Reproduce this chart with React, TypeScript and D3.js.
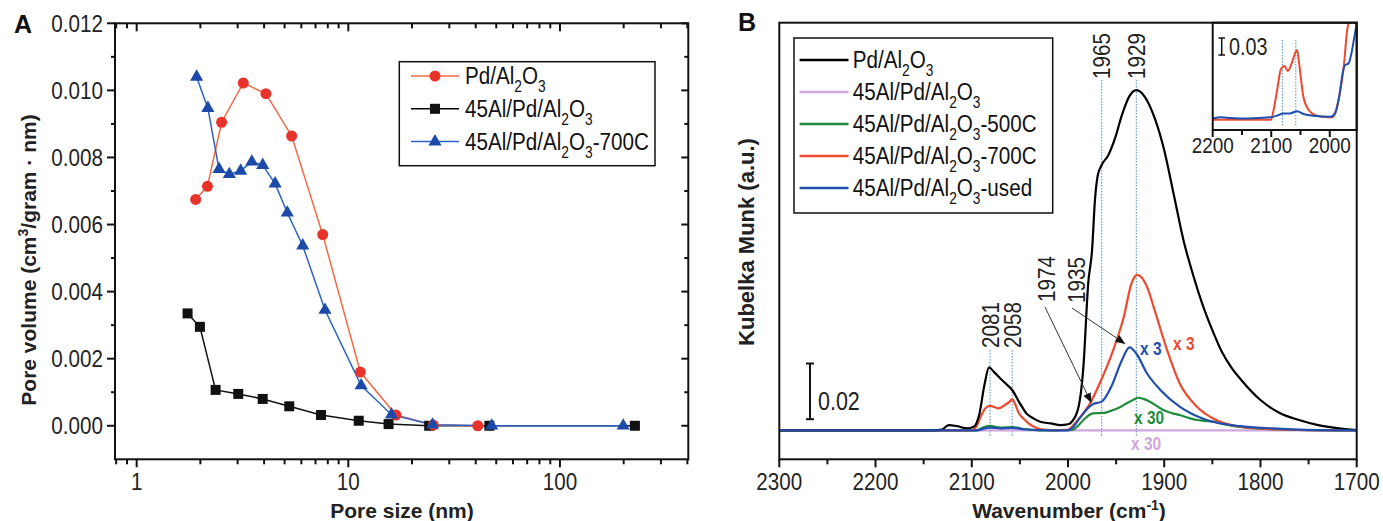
import React from 'react';
import * as d3 from 'd3';

const width = 1383;
const height = 521;
const font = '"Liberation Sans", Arial, Helvetica, sans-serif';
const squeeze = 0.86; // reference uses a condensed sans

const red = '#e8332a';
const redLine = '#f26a45';
const blue = '#1d4aa8';
const blueLine = '#2a63c4';
const specRed = '#ee4a2f';
const specBlue = '#1f4fb0';
const specGreen = '#1e8c3a';
const specPink = '#cfa6dd';
const dotBlue = '#4a8ac9';

// ---- panel A : pore size distribution ----
const sizePd = [1.90, 2.16, 2.52, 3.19, 4.08, 5.40, 7.57, 11.4, 16.8, 25.2, 40.9];
const volPd = [0.00675, 0.00714, 0.00905, 0.01022, 0.0099, 0.00864, 0.0057, 0.0016, 0.00032, 0.00002, 0];
const size45 = [1.74, 1.99, 2.36, 3.02, 3.94, 5.26, 7.43, 11.2, 15.5, 24.1, 46.4, 226];
const vol45 = [0.00335, 0.00295, 0.00107, 0.00095, 0.0008, 0.00058, 0.00032, 0.00015, 0.00005, 0, 0, 0];
const size700 = [1.92, 2.17, 2.45, 2.74, 3.10, 3.50, 3.94, 4.51, 5.15, 6.09, 7.76, 11.5, 16.0, 25.0, 47.6, 199];
const vol700 = [0.0104, 0.00947, 0.00765, 0.0075, 0.0076, 0.00787, 0.00777, 0.00722, 0.00635, 0.00537, 0.00345, 0.0012, 0.00033, 0.00003, 0, 0];
const volTicks = [0, 0.002, 0.004, 0.006, 0.008, 0.010, 0.012];
const sizeTicks = [1, 10, 100];

// ---- panel B : DRIFTS spectra (wavenumber, Kubelka-Munk) ----
const wnPd = [2300, 2200, 2140, 2131, 2124, 2115, 2105, 2098, 2092, 2087, 2082, 2077, 2070, 2065, 2058, 2050, 2043, 2036, 2028, 2018, 2008, 2000, 1996, 1989, 1984, 1979, 1975, 1972, 1969, 1965, 1958, 1951, 1944, 1936, 1929, 1920, 1910, 1900, 1890, 1880, 1870, 1860, 1850, 1840, 1830, 1820, 1800, 1780, 1760, 1740, 1720, 1700];
const kmPd = [0, 0, 0, 0.0003, 0.0019, 0.0015, 0.0007, 0.0013, 0.006, 0.016, 0.0226, 0.021, 0.0185, 0.0169, 0.0145, 0.0097, 0.006, 0.0043, 0.003, 0.0025, 0.0019, 0.0022, 0.0031, 0.0085, 0.0228, 0.0528, 0.0647, 0.0827, 0.0917, 0.0953, 0.0989, 0.105, 0.1132, 0.1201, 0.1222, 0.1197, 0.1122, 0.1006, 0.0845, 0.0683, 0.0558, 0.045, 0.036, 0.0281, 0.0224, 0.0181, 0.0109, 0.0062, 0.0037, 0.0019, 0.0008, 0.0001];
const wn45 = [2300, 1700];
const km45 = [0, 0];
const wn500 = [2300, 2095, 2087, 2081, 2070, 2058, 2045, 2030, 1995, 1990, 1984, 1978, 1974, 1968, 1962, 1953, 1946, 1939, 1932, 1927, 1921, 1915, 1908, 1901, 1892, 1884, 1875, 1866, 1857, 1849, 1838, 1828, 1815, 1804, 1780, 1750, 1700];
const km500 = [0, 0, 0.0012, 0.0016, 0.001, 0.0012, 0.0004, 0, 0.0002, 0.0015, 0.0037, 0.0055, 0.0061, 0.0062, 0.0063, 0.0073, 0.0083, 0.0097, 0.011, 0.0117, 0.0112, 0.0103, 0.0088, 0.0073, 0.0062, 0.0055, 0.0045, 0.0037, 0.0034, 0.0031, 0.0022, 0.0015, 0.001, 0.0007, 0.0003, 0.0001, 0];
const wn700 = [2300, 2100, 2095, 2090, 2085, 2081, 2076, 2072, 2066, 2060, 2058, 2055, 2051, 2045, 2041, 2035, 2029, 2020, 2000, 1996, 1987, 1977, 1967, 1953, 1942, 1934, 1928, 1918, 1910, 1897, 1884, 1866, 1846, 1821, 1787, 1750, 1700];
const km700 = [0, 0, 0.0015, 0.0055, 0.0082, 0.0088, 0.0083, 0.0079, 0.009, 0.0105, 0.0112, 0.0095, 0.0061, 0.0038, 0.0025, 0.0012, 0.0005, 0.0001, 0.0002, 0.0013, 0.0049, 0.0097, 0.0169, 0.0288, 0.0408, 0.0528, 0.0558, 0.0516, 0.0432, 0.0288, 0.0169, 0.0085, 0.0037, 0.0013, 0.0004, 0.0001, 0];
const wnUsed = [2300, 2095, 2085, 2081, 2070, 2058, 2045, 2030, 2000, 1996, 1988, 1977, 1974, 1965, 1955, 1944, 1936, 1929, 1918, 1904, 1884, 1856, 1821, 1787, 1752, 1700];
const kmUsed = [0, 0, 0.0008, 0.001, 0.0007, 0.0009, 0.0004, 0.0001, 0, 0.0007, 0.0043, 0.0087, 0.0094, 0.0103, 0.0157, 0.0252, 0.0298, 0.0276, 0.0205, 0.0145, 0.0085, 0.0037, 0.0015, 0.0007, 0.0002, 0];
const wnTicks = [2300, 2200, 2100, 2000, 1900, 1800, 1700];

// inset (own scale)
const insetWn700 = [2200, 2100, 2096, 2089, 2084, 2077, 2072, 2066, 2061, 2056, 2053, 2049, 2045, 2036, 2025, 2011, 1996, 1991, 1985, 1979, 1975, 1971, 1967, 1962];
const insetKm700 = [-0.002, -0.002, 0.015, 0.056, 0.0855, 0.0926, 0.0838, 0.0944, 0.110, 0.121, 0.103, 0.068, 0.038, 0.015, 0.006, 0.003, 0.002, 0.009, 0.033, 0.068, 0.103, 0.150, 0.174, 0.2];
const insetWnUsed = [2200, 2185, 2170, 2140, 2102, 2090, 2079, 2068, 2056, 2045, 2028, 1999, 1991, 1984, 1978, 1974, 1968, 1963, 1958, 1953];
const insetKmUsed = [0, 0.002, 0.001, 0, 0.002, 0.005, 0.009, 0.009, 0.013, 0.008, 0.005, 0.003, 0.009, 0.038, 0.080, 0.094, 0.097, 0.115, 0.144, 0.174];
const insetTicks = [2200, 2100, 2000];

const peakLow = [2081, 2058];
const peakHigh = [1965, 1929];

const zip = (xs: number[], ys: number[]) => xs.map((x, i) => [x, ys[i]] as [number, number]);

// condensed text: horizontally squeezed
function T({ x, y, size = 24, anchor = 'start', rot = false, fill = '#222', weight, children }: any) {
  const tf = `translate(${x},${y})${rot ? ' rotate(-90)' : ''} scale(${squeeze},1)`;
  return (
    <text transform={tf} fontSize={size} textAnchor={anchor} fill={fill} fontWeight={weight}>{children}</text>
  );
}

// Al2O3 style label with subscripts
function Chem({ x, y, pre, post = '' }: any) {
  return (
    <T x={x} y={y} size={24} fill="#111">
      {pre}
      <tspan fontSize={16} dy={8}>2</tspan>
      <tspan dy={-8}>O</tspan>
      <tspan fontSize={16} dy={8}>3</tspan>
      <tspan dy={-8}>{post}</tspan>
    </T>
  );
}

export default function App() {
  // panel A scales
  const xA = d3.scaleLog().domain([0.79, 404]).range([115, 688.3]);
  const yA = d3.scaleLinear().domain([-0.001, 0.012]).range([459.3, 23.3]);
  const lineA = d3.line<[number, number]>().x(d => xA(d[0])).y(d => yA(d[1]));
  const [aL, aR, aT, aB] = [115, 688.3, 23.3, 459.3];

  // panel B scales
  const xB = d3.scaleLinear().domain([2300, 1700]).range([779.3, 1356.7]);
  const yB = d3.scaleLinear().domain([-0.0104, 0.1464]).range([459.3, 22.7]);
  const lineB = d3.line<[number, number]>().x(d => xB(d[0])).y(d => yB(d[1])).curve(d3.curveMonotoneX);
  const [bL, bR, bT, bB] = [779.3, 1356.7, 22.7, 459.3];

  // inset scales
  const xI = d3.scaleLinear().domain([2200, 1954]).range([1212.7, 1356.7]);
  const yI = d3.scaleLinear().domain([-0.0203, 0.169]).range([130, 22.7]);
  const lineI = d3.line<[number, number]>().x(d => xI(d[0])).y(d => yI(d[1])).curve(d3.curveMonotoneX);

  const logTicks = xA.ticks();
  const isMajor = (v: number) => Math.abs(Math.log10(v) - Math.round(Math.log10(v))) < 1e-6;
  const volMinor = d3.range(0, 13).map(i => i * 0.001);
  const wnMinor = d3.range(1700, 2301, 50);

  const tri = d3.symbol().type(d3.symbolTriangle).size(75)();

  const legendA = [
    { pre: 'Pd/Al', post: '', color: redLine, mark: 'circle' },
    { pre: '45Al/Pd/Al', post: '', color: '#000', mark: 'square' },
    { pre: '45Al/Pd/Al', post: '-700C', color: blueLine, mark: 'tri' },
  ];
  const legendB = [
    { pre: 'Pd/Al', post: '', color: '#000' },
    { pre: '45Al/Pd/Al', post: '', color: specPink },
    { pre: '45Al/Pd/Al', post: '-500C', color: specGreen },
    { pre: '45Al/Pd/Al', post: '-700C', color: specRed },
    { pre: '45Al/Pd/Al', post: '-used', color: specBlue },
  ];

  return (
    <svg width={width} height={height} style={{ position: 'absolute', left: 0, top: 0 }} fontFamily={font}>
      <rect width={width} height={height} fill="#fff" />
      <defs>
        <clipPath id="clipB"><rect x={bL} y={bT} width={bR - bL} height={bB - bT} /></clipPath>
        <clipPath id="clipI"><rect x={xI(2200)} y={yI(0.169)} width={xI(1954) - xI(2200)} height={yI(-0.0203) - yI(0.169)} /></clipPath>
        <marker id="arrow" markerWidth="10" markerHeight="8" refX="9" refY="4" orient="auto" markerUnits="userSpaceOnUse">
          <path d="M0,0 L10,4 L0,8 Z" fill="#111" />
        </marker>
      </defs>

      {/* ================= Panel A ================= */}
      <text x={14} y={33} fontSize={25} fontWeight="bold" fill="#111">A</text>

      {/* ticks */}
      {volMinor.map((v, i) => {
        const major = i % 2 === 0;
        return (
          <g key={'vt' + i} stroke="#111" strokeWidth={2}>
            <line x1={aL} x2={aL - (major ? 8 : 4)} y1={yA(v)} y2={yA(v)} />
            <line x1={aR} x2={aR - (major ? 7 : 4)} y1={yA(v)} y2={yA(v)} />
          </g>
        );
      })}
      {logTicks.map((v, i) => {
        const major = isMajor(v);
        return (
          <g key={'st' + i} stroke="#111" strokeWidth={2}>
            <line x1={xA(v)} x2={xA(v)} y1={aB} y2={aB + (major ? 8 : 5)} />
            <line x1={xA(v)} x2={xA(v)} y1={aT} y2={aT + (major ? 8 : 5)} />
          </g>
        );
      })}
      <rect x={aL} y={aT} width={aR - aL} height={aB - aT} fill="none" stroke="#111" strokeWidth={2} />

      {volTicks.map(v => (
        <T key={'vl' + v} x={aL - 12} y={yA(v) + 8.5} anchor="end">{v.toFixed(3)}</T>
      ))}
      {sizeTicks.map(v => (
        <T key={'sl' + v} x={xA(v)} y={490} anchor="middle">{v}</T>
      ))}

      <text x={402} y={518} fontSize={21} fontWeight="bold" textAnchor="middle" fill="#222">Pore size (nm)</text>
      <text transform="translate(36,260) rotate(-90)" fontSize={21} fontWeight="bold" textAnchor="middle" fill="#222">
        Pore volume (cm<tspan fontSize={14} dy={-8}>3</tspan><tspan dy={8}>/gram · nm)</tspan>
      </text>

      {/* series */}
      <path d={lineA(zip(size45, vol45)) || ''} fill="none" stroke="#111" strokeWidth={1.5} />
      <path d={lineA(zip(sizePd, volPd)) || ''} fill="none" stroke={redLine} strokeWidth={1.5} />
      <path d={lineA(zip(size700, vol700)) || ''} fill="none" stroke={blueLine} strokeWidth={1.5} />
      {zip(size45, vol45).map((d, i) => (
        <rect key={'sq' + i} x={xA(d[0]) - 5} y={yA(d[1]) - 5} width={10} height={10} fill="#111" />
      ))}
      {zip(sizePd, volPd).map((d, i) => (
        <circle key={'ci' + i} cx={xA(d[0])} cy={yA(d[1])} r={5.5} fill={red} />
      ))}
      {zip(size700, vol700).map((d, i) => (
        <path key={'tr' + i} d={tri || ''} transform={`translate(${xA(d[0])},${yA(d[1])})`} fill={blue} />
      ))}

      {/* legend A */}
      <rect x={399.3} y={61.7} width={255.7} height={104} fill="#fff" stroke="#111" strokeWidth={1.5} />
      {legendA.map((l, i) => {
        const y = 76 + i * 32.8;
        return (
          <g key={'la' + i}>
            <line x1={411} x2={459} y1={y} y2={y} stroke={l.color} strokeWidth={1.5} />
            {l.mark === 'circle' && <circle cx={435} cy={y} r={5.5} fill={red} />}
            {l.mark === 'square' && <rect x={430} y={y - 5} width={10} height={10} fill="#111" />}
            {l.mark === 'tri' && <path d={tri || ''} transform={`translate(435,${y})`} fill={blue} />}
            <Chem x={465} y={y + 8} pre={l.pre} post={l.post} />
          </g>
        );
      })}

      {/* ================= Panel B ================= */}
      <text x={738} y={31} fontSize={25} fontWeight="bold" fill="#111">B</text>

      {wnMinor.map(v => (
        <line key={'wt' + v} x1={xB(v)} x2={xB(v)} y1={bB} y2={bB + (v % 100 === 0 ? 8 : 5)} stroke="#111" strokeWidth={2} />
      ))}
      {wnTicks.map(v => (
        <T key={'wl' + v} x={xB(v)} y={490} anchor="middle">{v}</T>
      ))}
      <text x={1069} y={518} fontSize={21} fontWeight="bold" textAnchor="middle" fill="#222">
        Wavenumber (cm<tspan fontSize={14} dy={-8}>-1</tspan><tspan dy={8}>)</tspan>
      </text>
      <text transform="translate(754,242) rotate(-90)" fontSize={22} fontWeight="bold" textAnchor="middle" fill="#222">Kubelka Munk (a.u.)</text>

      {/* dotted peak markers */}
      {peakLow.map(p => (
        <line key={'pl' + p} x1={xB(p)} x2={xB(p)} y1={350} y2={437} stroke={dotBlue} strokeWidth={1} strokeDasharray="1.5,1.5" />
      ))}
      {peakHigh.map(p => (
        <line key={'ph' + p} x1={xB(p)} x2={xB(p)} y1={80} y2={437} stroke={dotBlue} strokeWidth={1} strokeDasharray="1.5,1.5" />
      ))}

      <g clipPath="url(#clipB)" fill="none" strokeWidth={2.2} strokeLinejoin="round">
        <path d={lineB(zip(wn45, km45)) || ''} stroke={specPink} />
        <path d={lineB(zip(wn500, km500)) || ''} stroke={specGreen} />
        <path d={lineB(zip(wn700, km700)) || ''} stroke={specRed} />
        <path d={lineB(zip(wnPd, kmPd)) || ''} stroke="#000" />
        <path d={lineB(zip(wnUsed, kmUsed)) || ''} stroke={specBlue} />
      </g>

      {/* peak labels */}
      {[...peakLow, ...peakHigh].map((p, i) => (
        <T key={'pt' + p} x={xB(p) + 8.5} y={i < 2 ? 325 : 56} rot anchor="middle">{p}</T>
      ))}
      <T x={1055} y={279} rot anchor="middle">1974</T>
      <T x={1085} y={280} rot anchor="middle">1935</T>
      <line x1={1045} y1={307} x2={xB(1974) - 2} y2={yB(0.0094) - 2} stroke="#333" strokeWidth={1} markerEnd="url(#arrow)" />
      <line x1={1072} y1={308} x2={xB(1935) - 6} y2={yB(0.0298) - 4} stroke="#333" strokeWidth={1} markerEnd="url(#arrow)" />

      {/* multipliers */}
      <T x={1140} y={355} size={18} weight="bold" fill={specBlue}>x 3</T>
      <T x={1173} y={349.5} size={18} weight="bold" fill={specRed}>x 3</T>
      <T x={1134} y={423.5} size={18} weight="bold" fill={specGreen}>x 30</T>
      <T x={1131} y={449.5} size={18} weight="bold" fill={specPink}>x 30</T>

      {/* scale bar 0.02 */}
      <g stroke="#111" strokeWidth={2}>
        <line x1={810} x2={810} y1={yB(0.004)} y2={yB(0.024)} />
        <line x1={806} x2={814} y1={yB(0.004)} y2={yB(0.004)} />
        <line x1={806} x2={814} y1={yB(0.024)} y2={yB(0.024)} />
      </g>
      <T x={818} y={410} size={25}>0.02</T>

      {/* legend B */}
      <rect x={794} y={38} width={258.7} height={175} fill="#fff" stroke="#111" strokeWidth={1.5} />
      {legendB.map((l, i) => {
        const y = 60 + i * 32;
        return (
          <g key={'lb' + i}>
            <line x1={799.6} x2={848.5} y1={y} y2={y} stroke={l.color} strokeWidth={2.5} />
            <Chem x={852.8} y={y + 8} pre={l.pre} post={l.post} />
          </g>
        );
      })}

      {/* inset */}
      <rect x={xI(2200)} y={yI(0.169)} width={xI(1954) - xI(2200)} height={yI(-0.0203) - yI(0.169)} fill="#fff" />
      {peakLow.map(p => (
        <line key={'ip' + p} x1={xI(p)} x2={xI(p)} y1={40} y2={125} stroke={dotBlue} strokeWidth={1} strokeDasharray="1.5,1.5" />
      ))}
      <g clipPath="url(#clipI)" fill="none" strokeWidth={2} strokeLinejoin="round">
        <path d={lineI(zip(insetWn700, insetKm700)) || ''} stroke={specRed} />
        <path d={lineI(zip(insetWnUsed, insetKmUsed)) || ''} stroke={specBlue} />
      </g>
      <rect x={xI(2200)} y={yI(0.169)} width={xI(1954) - xI(2200)} height={yI(-0.0203) - yI(0.169)} fill="none" stroke="#111" strokeWidth={2} />
      {d3.range(2000, 2201, 50).map(v => (
        <line key={'it' + v} x1={xI(v)} x2={xI(v)} y1={130} y2={130 + (v % 100 === 0 ? 7 : 5)} stroke="#111" strokeWidth={2} />
      ))}
      {insetTicks.map(v => (
        <T key={'il' + v} x={xI(v)} y={153} size={22} anchor="middle">{v}</T>
      ))}
      <T x={1229} y={55} size={23}>0.03</T>
      <g stroke="#111" strokeWidth={1.5}>
        <line x1={1221.7} x2={1221.7} y1={yI(0.112)} y2={yI(0.142)} />
        <line x1={1218.5} x2={1225} y1={yI(0.112)} y2={yI(0.112)} />
        <line x1={1218.5} x2={1225} y1={yI(0.142)} y2={yI(0.142)} />
      </g>

      {/* main frame B on top */}
      <rect x={bL} y={bT} width={bR - bL} height={bB - bT} fill="none" stroke="#111" strokeWidth={2} />
    </svg>
  );
}
